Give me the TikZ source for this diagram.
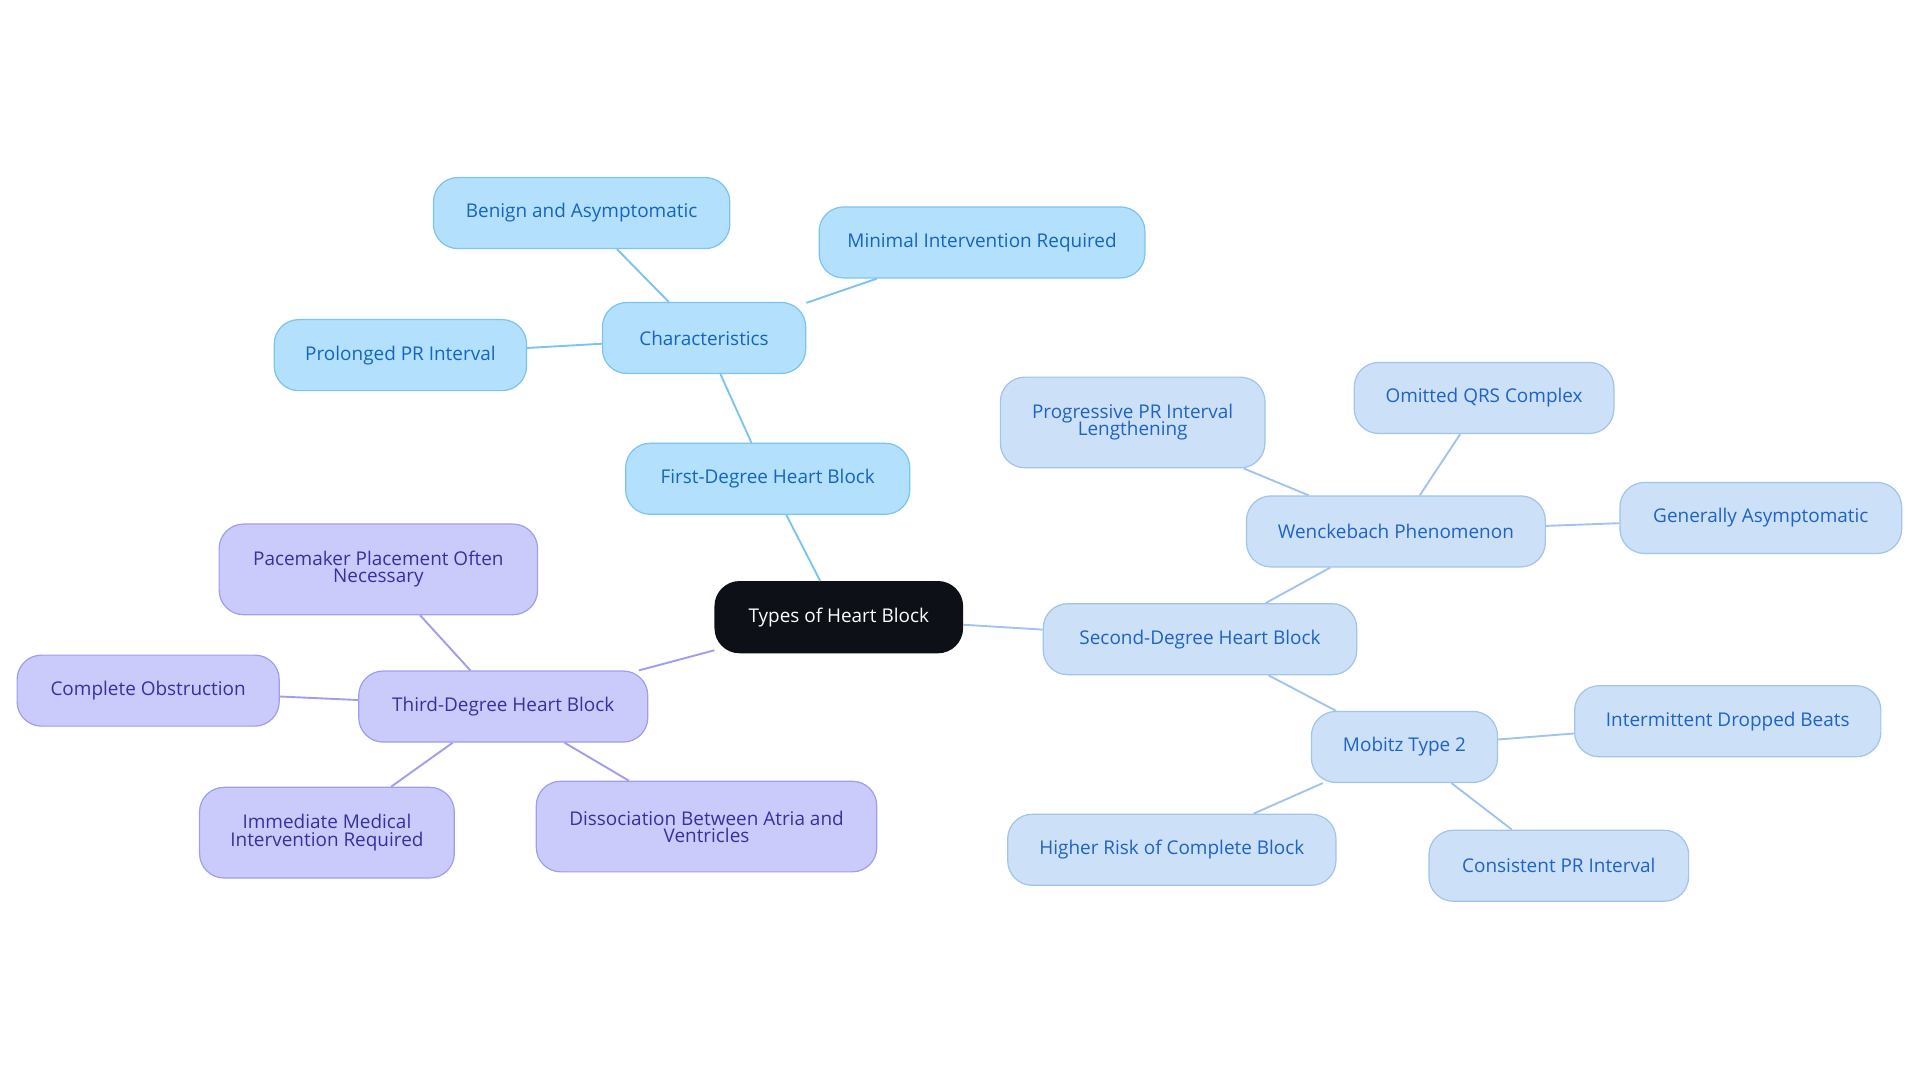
\documentclass[tikz,border=0pt]{standalone}
\usepackage{fontspec}
\setmainfont{Open Sans}
\usetikzlibrary{shapes, arrows.meta}
\definecolor{rootfill}{HTML}{0D1117}
\definecolor{bluefill}{HTML}{B3E0FD}
\definecolor{bluedraw}{HTML}{7CC4F0}
\definecolor{bluetext}{HTML}{1565C0}
\definecolor{skyfill}{HTML}{CCE0F8}
\definecolor{skydraw}{HTML}{A0C4EE}
\definecolor{skytext}{HTML}{1E63C8}
\definecolor{violetfill}{HTML}{CBCBFB}
\definecolor{violetdraw}{HTML}{A09CF0}
\definecolor{violettext}{HTML}{3730A3}
\tikzset{
  box/.style={rounded corners=0.5cm, draw, line width=0.7pt, align=center,
    font=\fontsize{11}{12}\selectfont, minimum height=1.45cm, inner sep=2pt},
  root/.style={box, fill=rootfill, draw=rootfill, text=white},
  first/.style={box, fill=bluefill, draw=bluedraw, text=bluetext},
  second/.style={box, fill=skyfill, draw=skydraw, text=skytext},
  third/.style={box, fill=violetfill, draw=violetdraw, text=violettext},
  tall/.style={minimum height=1.85cm},
}
\begin{document}
\begin{tikzpicture}[x=0.025cm, y=-0.025cm]
  \useasboundingbox (0,0) rectangle (1568,884);
  \node[root, minimum width=5.05cm] (root) at (685,504) {Types of Heart Block};
  % first degree
  \node[first, minimum width=5.8cm] (first) at (627,391) {First-Degree Heart Block};
  \node[first, minimum width=4.15cm] (char) at (575,276) {Characteristics};
  \node[first, minimum width=6.05cm] (benign) at (475,174) {Benign and Asymptomatic};
  \node[first, minimum width=6.65cm] (minimal) at (802,198) {Minimal Intervention Required};
  \node[first, minimum width=5.15cm] (prolonged) at (327,290) {Prolonged PR Interval};
  % second degree
  \node[second, minimum width=6.4cm] (second) at (980,522) {Second-Degree Heart Block};
  \node[second, minimum width=6.1cm] (wenck) at (1140,434) {Wenckebach Phenomenon};
  \node[second, tall, minimum width=5.4cm] (progressive) at (925,345) {Progressive PR Interval\\[-2pt]Lengthening};
  \node[second, minimum width=5.3cm] (omitted) at (1212,325) {Omitted QRS Complex};
  \node[second, minimum width=5.75cm] (generally) at (1438,423) {Generally Asymptomatic};
  \node[second, minimum width=3.8cm] (mobitz) at (1147,610) {Mobitz Type 2};
  \node[second, minimum width=6.25cm] (intermittent) at (1411,589) {Intermittent Dropped Beats};
  \node[second, minimum width=5.3cm] (consistent) at (1273,707) {Consistent PR Interval};
  \node[second, minimum width=6.7cm] (higher) at (957,694) {Higher Risk of Complete Block};
  % third degree
  \node[third, minimum width=5.9cm] (third) at (411,577) {Third-Degree Heart Block};
  \node[third, tall, minimum width=6.5cm] (pacemaker) at (309,465) {Pacemaker Placement Often\\[-2pt]Necessary};
  \node[third, minimum width=5.35cm] (complete) at (121,564) {Complete Obstruction};
  \node[third, tall, minimum width=5.2cm] (immediate) at (267,680) {Immediate Medical\\[-2pt]Intervention Required};
  \node[third, tall, minimum width=6.95cm] (dissociation) at (577,675) {Dissociation Between Atria and\\[-2pt]Ventricles};
  % connectors
  \begin{scope}[on background layer/.try, line width=1.1pt]
    \draw[bluedraw] (root) -- (first);
    \draw[bluedraw] (first) -- (char);
    \draw[bluedraw] (char) -- (benign);
    \draw[bluedraw] (char) -- (minimal);
    \draw[bluedraw] (char) -- (prolonged);
    \draw[skydraw] (root) -- (second);
    \draw[skydraw] (second) -- (wenck);
    \draw[skydraw] (wenck) -- (progressive);
    \draw[skydraw] (wenck) -- (omitted);
    \draw[skydraw] (wenck) -- (generally);
    \draw[skydraw] (second) -- (mobitz);
    \draw[skydraw] (mobitz) -- (intermittent);
    \draw[skydraw] (mobitz) -- (consistent);
    \draw[skydraw] (mobitz) -- (higher);
    \draw[violetdraw] (root) -- (third);
    \draw[violetdraw] (third) -- (pacemaker);
    \draw[violetdraw] (third) -- (complete);
    \draw[violetdraw] (third) -- (immediate);
    \draw[violetdraw] (third) -- (dissociation);
  \end{scope}
\end{tikzpicture}
\end{document}
